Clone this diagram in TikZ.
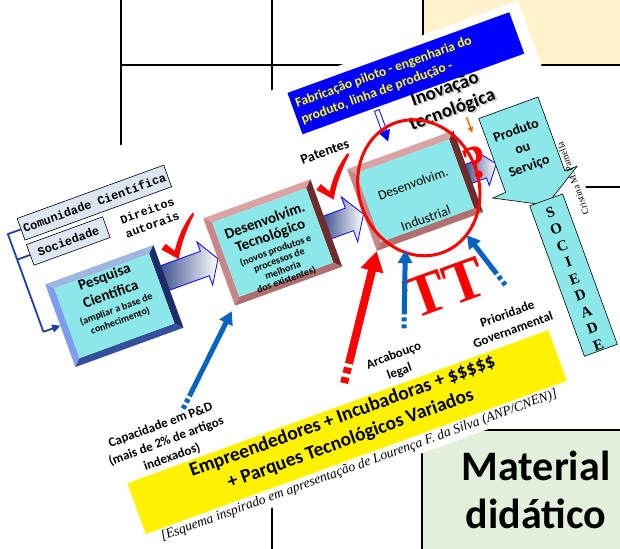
\documentclass[tikz,border=0pt]{standalone}
\usepackage{fontspec}
\setmainfont{Carlito}
\newfontfamily\monof{Liberation Mono}
\newfontfamily\serf{Liberation Serif}
\usetikzlibrary{arrows.meta}
\definecolor{cyanface}{HTML}{8CE8E8}
\definecolor{beigebg}{HTML}{FFF2CC}
\definecolor{greenbg}{HTML}{E2EFDA}
\definecolor{fabblue}{HTML}{0000FF}
\definecolor{fabyellow}{HTML}{FFFF00}
\definecolor{commfill}{HTML}{DCE6F2}
\definecolor{brkblue}{HTML}{1F3FA0}
\definecolor{arrblue}{HTML}{0563C1}
\definecolor{arrdark}{HTML}{3A4E8C}
\definecolor{bvtopb}{HTML}{9FB6E0}
\definecolor{bvleftb}{HTML}{7E9CF0}
\definecolor{bvrightb}{HTML}{1E2C6A}
\definecolor{bvbotb}{HTML}{34509A}
\definecolor{bvtopr}{HTML}{D9A3A3}
\definecolor{bvleftr}{HTML}{C98686}
\definecolor{bvrightr}{HTML}{6E2C2C}
\definecolor{bvbotr}{HTML}{B07070}
\definecolor{orangearr}{HTML}{E36C09}
\newcommand\bevbox[9]{%
  \fill[#6] (#1,#2) -- (#3,#2) -- ({#3-#5},{#2+#5}) -- ({#1+#5},{#2+#5}) -- cycle;
  \fill[#7] (#1,#2) -- ({#1+#5},{#2+#5}) -- ({#1+#5},{#4-#5}) -- (#1,#4) -- cycle;
  \fill[#8] (#3,#2) -- (#3,#4) -- ({#3-#5},{#4-#5}) -- ({#3-#5},{#2+#5}) -- cycle;
  \fill[#9] (#1,#4) -- (#3,#4) -- ({#3-#5},{#4-#5}) -- ({#1+#5},{#4-#5}) -- cycle;
  \fill[cyanface] ({#1+#5},{#2+#5}) rectangle ({#3-#5},{#4-#5});
}
\newcommand\blkarrow[6]{%
  \path[blkarr] (#1,{#4-#5}) -- (#2,{#4-#5}) -- (#2,{#4-#6}) -- (#3,#4) -- (#2,{#4+#6}) -- (#2,{#4+#5}) -- (#1,{#4+#5}) -- cycle;
}
\tikzset{
  grid/.style={line width=2.5pt,draw=black},
  blkarr/.style={draw=blue,line width=0.8pt,left color=arrdark,right color=white},
  boxnode/.style={inner sep=0pt,draw=none},
  commbox/.style={draw=black,line width=0.6pt,fill=commfill,inner sep=0pt,
    font=\monof\bfseries\fontsize{12}{13}\selectfont},
  brk/.style={draw=brkblue,line width=1.8pt},
  lbl/.style={font=\bfseries\fontsize{13}{17}\selectfont,align=center,inner sep=0pt},
  bigt/.style={font=\bfseries\fontsize{15}{17}\selectfont,inner sep=0pt},
  smallt/.style={font=\bfseries\fontsize{10}{11}\selectfont,inner sep=0pt},
  mat/.style={font=\bfseries\fontsize{42}{48}\selectfont,inner sep=0pt},
  bluearr/.style={draw=arrblue,line width=5pt,-{Triangle[length=13pt,width=14pt]},
    dash pattern=on 4pt off 3pt on 4pt off 3pt on 400pt},
  redarr/.style={draw=red,line width=8pt,-{Triangle[length=20pt,width=22pt]},
    dash pattern=on 6pt off 4pt on 6pt off 4pt on 400pt},
  pics/redcheck/.style={code={
    \fill[red] (-11,-13) -- (-5,-17) -- (1,-7) .. controls (8,-18) and (18,-29) .. (31,-37)
      -- (32,-35) .. controls (20,-24) and (9,-11) .. (2,2) -- cycle;}}
}
\begin{document}
\begin{tikzpicture}[x=1pt,y=-1pt]
\useasboundingbox (0,0) rectangle (620,548);
\fill[white] (0,0) rectangle (620,548);
% background grid and boxes
\draw[grid] (121,-5) -- (121,560);
\draw[grid] (272,-5) -- (272,560);
\draw[grid] (121,65) -- (423,65);
\draw[grid] (500,187) -- (630,187);
\draw[grid,fill=beigebg] (423,-10) rectangle (640,65);
\draw[grid,fill=greenbg] (422,430) rectangle (640,560);
\node[mat,anchor=base] (mat1) at (536,480) {Material};
\node[mat,anchor=base] (mat2) at (536,528) {didático};
% the rotated slide
\begin{scope}[shift={(-49.8,207.2)},rotate=20,transform shape]
\fill[white] (0,0) rectangle (604,392.5);
% Fabricacao box
\node[boxnode,fill=fabblue,minimum width=236pt,minimum height=44pt] (fab) at (474,30) {};
\node[anchor=west,align=left,inner sep=0pt,text=fabyellow,font=\bfseries\fontsize{13.5}{17}\selectfont] (fabt) at (360,30)
  {Fabricação piloto - engenharia do\\produto, linha de produção -};
\path[draw=blue,fill=white,line width=0.8pt] (431.5,55) -- (436.5,55) -- (436.5,77) -- (431.5,77) -- cycle;
\fill[blue] (428,77) -- (440,77) -- (434,88) -- cycle;
% Inovacao
\node[align=center,inner sep=0pt,text=gray!45,font=\bfseries\fontsize{19}{22}\selectfont] at (506.5,71.5) {Inovação\\tecnológica};
\node[align=center,inner sep=0pt,font=\bfseries\fontsize{19}{22}\selectfont] (inov) at (505,70) {Inovação\\tecnológica};
\coordinate (ora1) at (516,92);
\coordinate (ora2) at (516,109);
\draw[orangearr,line width=1.5pt,-{Triangle[length=6pt,width=5pt]}] (ora1) -- (ora2);
% Comunidade / Sociedade
\node[commbox,minimum width=156pt,minimum height=23pt] (comu) at (137,45) {Comunidade Científica};
\node[commbox,minimum width=81pt,minimum height=22pt] (soc) at (99.4,72.2) {Sociedade};
\coordinate (bk1) at (45,45);
\coordinate (bk2) at (45,72.2);
\coordinate (bk3) at (45,149);
% block arrows
\blkarrow{176}{220}{234}{140}{13}{23}
\blkarrow{346}{371}{386}{148}{12}{24}
\blkarrow{497}{514}{528}{146}{10}{18}
% boxes
\bevbox{63}{105}{178}{193}{7}{bvtopb}{bvleftb}{bvrightb}{bvbotb}
\node[boxnode,minimum width=115pt,minimum height=88pt] (pq) at (120.5,149) {};
\draw[brk] (comu.west) -- (bk1) -- (bk3);
\draw[brk,-{Triangle[length=8pt,width=8pt]}] (bk3) -- (pq.west);
\draw[brk] (soc.west) -- (bk2);
\node[bigt] (pq1) at (121,119) {Pesquisa};
\node[bigt] (pq2) at (121,136) {Científica};
\node[smallt] (pq3) at (121,153) {(ampliar a base de};
\node[smallt] (pq4) at (121,165) {conhecimento)};
\bevbox{234}{97}{348}{190}{7}{bvtopr}{bvleftr}{bvrightr}{bvbotr}
\node[boxnode,minimum width=114pt,minimum height=93pt] (tec) at (291,143.5) {};
\node[bigt] (tc1) at (291,120) {Desenvolvim.};
\node[bigt] (tc2) at (291,137) {Tecnológico};
\node[smallt] (tc3) at (291,152) {(novos produtos e};
\node[smallt] (tc4) at (291,162.5) {processos de};
\node[smallt] (tc5) at (291,173) {melhoria};
\node[smallt] (tc6) at (291,183.5) {dos existentes)};
\bevbox{386}{100}{499}{187}{7}{bvtopr}{bvleftr}{bvrightr}{bvbotr}
\node[boxnode,minimum width=113pt,minimum height=87pt] (ind) at (442.5,143.5) {};
\node[inner sep=0pt,font=\fontsize{13.5}{16}\selectfont] (ind1) at (443,136) {Desenvolvim.};
\node[inner sep=0pt,font=\fontsize{13.5}{16}\selectfont] (ind2) at (443,173) {Industrial};
% Produto ou Servico
\path[draw=black,line width=0.6pt,fill=cyanface] (527,97.5) -- (590,97.5) -- (590,176) -- (603,176) -- (561,202) -- (513,177) -- (527,176) -- cycle;
\node[align=center,inner sep=0pt,font=\bfseries\fontsize{14}{19}\selectfont] (prod) at (558,141) {Produto\\ou\\Serviço};
\node[inner sep=0pt,text=red,font=\serf\bfseries\fontsize{48}{52}\selectfont] (qm) at (510,138) {?};
% SOCIEDADE
\node[boxnode,draw=black,line width=0.6pt,fill=cyanface,minimum width=35pt,minimum height=160pt] (socv) at (562.5,277) {};
\node[align=center,inner sep=0pt,font=\serf\bfseries\fontsize{15}{17.6}\selectfont] (socl) at (562,280.7) {S\\O\\C\\I\\E\\D\\A\\D\\E};
\node[rotate=90,inner sep=0pt,font=\serf\fontsize{9.5}{11}\selectfont] (crist) at (595,186) {Cristina M. Pamella};
% checks and labels
\pic at (195,125) {redcheck};
\pic at (361,122) {redcheck};
\node[align=center,inner sep=0pt,font=\monof\bfseries\fontsize{11.8}{15}\selectfont] (dir) at (184,78) {Direitos\\autorais};
\node[inner sep=0pt,font=\bfseries\fontsize{14}{16}\selectfont] (pat) at (371,76) {Patentes};
% ellipse
\draw[red,line width=3pt] (447,142) ellipse [x radius=60,y radius=69];
% TT
\node[inner sep=0pt,text=red,font=\serf\bfseries\fontsize{60}{64}\selectfont] (tt) at (438,245) {TT};
% yellow box
\node[boxnode,fill=yellow,minimum width=448pt,minimum height=54pt] (yel) at (296,347) {};
\node[align=center,inner sep=0pt,font=\bfseries\fontsize{19.5}{24}\selectfont] (yelt) at (297,343)
  {Empreendedores + Incubadoras + \$\$\$\$\$\\+ Parques Tecnológicos Variados};
\node[anchor=base,inner sep=0pt,font=\serf\itshape\fontsize{13.6}{16}\selectfont] (foot) at (296,386)
  {[Esquema inspirado em apresentação de Lourença F. da Silva (ANP/CNEN)]};
% arrows into the boxes
\coordinate (capt) at (150,269);
\coordinate (capk) at (229,194);
\coordinate (arct) at (385,269);
\coordinate (arck) at (413,196);
\coordinate (prit) at (495,263);
\coordinate (prik) at (476,203);
\coordinate (redt) at (310,300);
\draw[bluearr] (capt) -- (capk);
\draw[bluearr] (arct) -- (arck);
\draw[bluearr] (prit) -- (prik);
\draw[redarr] (redt) -- (ind.south west);
\node[lbl] (capl) at (123,294) {Capacidade em P\&D\\(mais de 2\% de artigos\\indexados)};
\node[lbl] (arcl) at (366,300) {Arcabouço\\legal};
\node[lbl] (pril) at (487,299) {Prioridade\\Governamental};
\end{scope}
\end{tikzpicture}
\end{document}
